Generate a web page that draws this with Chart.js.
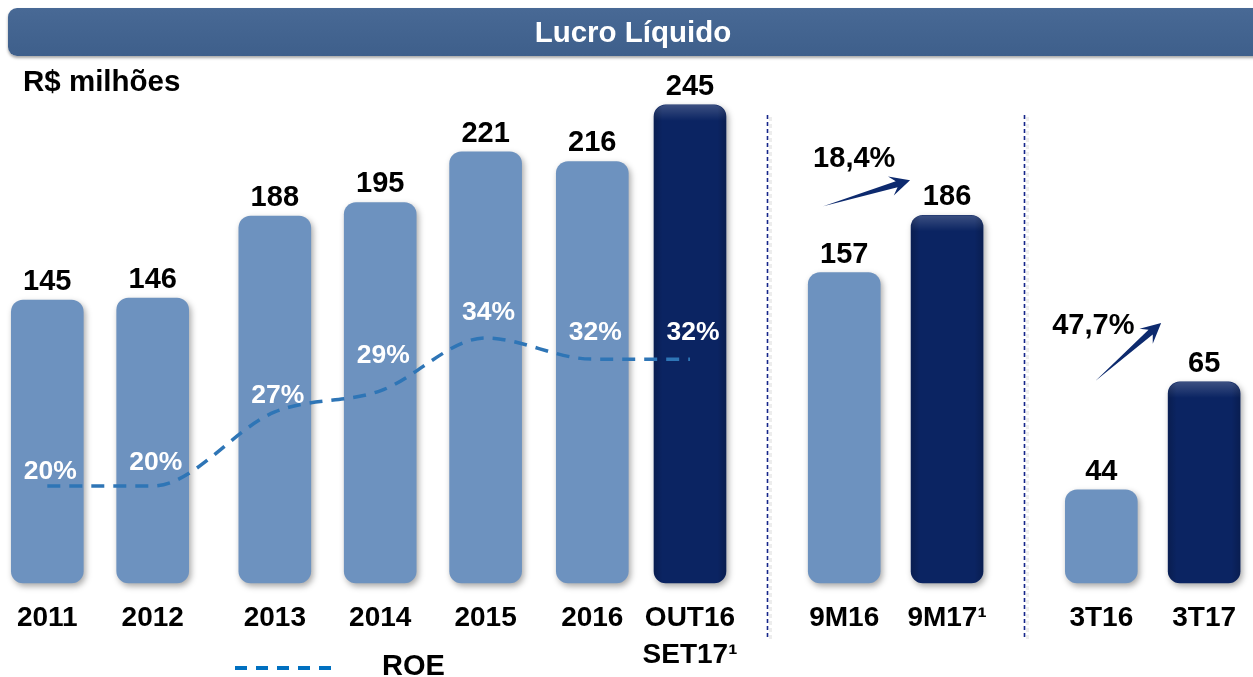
<!DOCTYPE html>
<html><head><meta charset="utf-8">
<script src="https://cdn.jsdelivr.net/npm/chart.js@4/dist/chart.umd.min.js"></script>
<style>
html,body{margin:0;padding:0;background:#fff;overflow:hidden;width:1253px;height:677px;}
#wrap{position:relative;width:1253px;height:677px;overflow:hidden;}
canvas{position:absolute;left:0;top:0;}
#title{position:absolute;left:8px;top:8px;width:1250px;height:48px;border-radius:9px 0 0 9px;
  background:linear-gradient(#486995,#3e5f8b);box-shadow:0 2px 3px rgba(0,0,0,.35);
  color:#fff;font:bold 29.5px 'Liberation Sans',Arial,sans-serif;line-height:48px;text-align:center;z-index:2;}
#unit{position:absolute;left:23px;top:63px;font:bold 29.5px 'Liberation Sans',Arial,sans-serif;line-height:36px;color:#000;z-index:2;}
</style></head>
<body><div id="wrap">
<canvas id="c" width="1253" height="677"></canvas>
<div id="title">Lucro Líquido</div>
<div id="unit">R$ milhões</div>
</div>
<script>
// ---- data ----
const categories = ['2011','2012','2013','2014','2015','2016',['OUT16','SET17¹'],'9M16','9M17¹','3T16','3T17'];
const annualValues = [145,146,188,195,221,216,245];
const nineMonthValues = [157,186];
const quarterValues = [44,65];
const roeValues = [20,20,27,29,34,32,32];
const growthLabels = ['18,4%','47,7%'];
const legendLabel = 'ROE';

// ---- layout (not data) ----
const SLOT = [0,4.1,8.85,12.95,17.05,21.2,25,31,35,41,45];
const ROE_DY = [14,23,16,35,25,26,26];
const Q_AXIS_MIN = 25.9;
const LIGHT = '#6d92bf', DARK = '#0b2462';
const FONT = "'Liberation Sans', Arial, sans-serif";

const colorsFor = n => Array.from({length:n},(_,i)=> i===n-1 ? DARK : LIGHT);

const annualData = annualValues.map((v,i)=>({x:SLOT[i],y:v}));
const nineData = nineMonthValues.map((v,i)=>({x:SLOT[7+i],y:v}));
const quarterData = quarterValues.map((v,i)=>({x:SLOT[9+i],y:v}));
const roeData = roeValues.map((v,i)=>({x:SLOT[i],y:v}));

function drawArrow(ctx, tx, ty, px, py){
  const dx=px-tx, dy=py-ty, L=Math.hypot(dx,dy), ux=dx/L, uy=dy/L, nx=-uy, ny=ux;
  const head=20, hw=10, sw=3.2;
  const hx=px-ux*head, hy=py-uy*head;
  const bx=px-ux*(head-6), by=py-uy*(head-6);
  ctx.save();
  ctx.fillStyle='#0d2a6e';
  ctx.beginPath();
  ctx.moveTo(tx,ty);
  ctx.lineTo(bx+nx*sw,by+ny*sw);
  ctx.lineTo(hx+nx*hw,hy+ny*hw);
  ctx.lineTo(px,py);
  ctx.lineTo(hx-nx*hw,hy-ny*hw);
  ctx.lineTo(bx-nx*sw,by-ny*sw);
  ctx.closePath();
  ctx.fill();
  ctx.restore();
}

const deco = {
  id:'deco',
  beforeDatasetsDraw(chart){
    const ctx=chart.ctx, xs=chart.scales.x;
    const seps=[(SLOT[6]+SLOT[7])/2,(SLOT[8]+SLOT[9])/2];
    seps.forEach(s=>{
      const x=Math.round(xs.getPixelForValue(s))+0.5;
      ctx.save();
      ctx.setLineDash([4,3]);
      ctx.lineWidth=3; ctx.strokeStyle='rgba(0,0,0,0.07)';
      ctx.beginPath(); ctx.moveTo(x+3,117); ctx.lineTo(x+3,639); ctx.stroke();
      ctx.lineWidth=1.6; ctx.strokeStyle='#16268a';
      ctx.beginPath(); ctx.moveTo(x,115); ctx.lineTo(x,637); ctx.stroke();
      ctx.restore();
    });
  },
  beforeDatasetDraw(chart,args){
    if(args.meta.type==='bar'){
      const ctx=chart.ctx; ctx.save();
      ctx.shadowColor='rgba(0,0,0,0.35)'; ctx.shadowBlur=6; ctx.shadowOffsetX=2; ctx.shadowOffsetY=3;
    }
  },
  afterDatasetDraw(chart,args){
    if(args.meta.type!=='bar') return;
    const ctx=chart.ctx; ctx.restore();
    const ds=chart.data.datasets[args.index];
    args.meta.data.forEach((el,i)=>{
      if(ds.backgroundColor[i]!==DARK) return;
      const p=el.getProps(['x','y','base','width'],true);
      const l=p.x-p.width/2, w=p.width, h=p.base-p.y;
      ctx.save();
      ctx.beginPath(); ctx.roundRect(l,p.y,w,h,12); ctx.clip();
      const g=ctx.createLinearGradient(0,p.y,0,p.y+16);
      g.addColorStop(0,'rgba(255,255,255,0.20)'); g.addColorStop(1,'rgba(255,255,255,0)');
      ctx.fillStyle=g; ctx.fillRect(l,p.y,w,16);
      const gs=ctx.createLinearGradient(l,0,l+w,0);
      gs.addColorStop(0,'rgba(0,0,0,0.18)'); gs.addColorStop(0.12,'rgba(0,0,0,0)');
      gs.addColorStop(0.88,'rgba(0,0,0,0)'); gs.addColorStop(1,'rgba(0,0,0,0.18)');
      ctx.fillStyle=gs; ctx.fillRect(l,p.y,w,h);
      ctx.restore();
    });
  },
  afterDraw(chart){
    const ctx=chart.ctx;
    ctx.save();
    ctx.textAlign='center'; ctx.textBaseline='middle';
    // value labels
    ctx.font='bold 29px '+FONT; ctx.fillStyle='#000';
    [1,2,3].forEach(di=>{
      const ds=chart.data.datasets[di];
      chart.getDatasetMeta(di).data.forEach((el,i)=>{
        ctx.fillText(String(ds.data[i].y), el.x, el.y-18);
      });
    });
    // ROE labels
    ctx.font='bold 26.5px '+FONT; ctx.fillStyle='#fff';
    chart.getDatasetMeta(0).data.forEach((el,i)=>{
      ctx.fillText(roeValues[i]+'%', el.x+3, el.y-ROE_DY[i]);
    });
    // growth arrows
    const m9=chart.getDatasetMeta(2).data, m3=chart.getDatasetMeta(3).data;
    drawArrow(ctx, m9[0].x-21, m9[1].y-9, m9[1].x-37, m9[1].y-35);
    drawArrow(ctx, m3[0].x-6, m3[1].y-1, m3[1].x-43, m3[1].y-59);
    ctx.font='bold 29px '+FONT; ctx.fillStyle='#000';
    ctx.fillText(growthLabels[0], m9[0].x+10, m9[1].y-56);
    ctx.fillText(growthLabels[1], m3[0].x-8, m3[1].y-56);
    // legend
    ctx.strokeStyle='#0070c0'; ctx.lineWidth=4; ctx.setLineDash([12,9]);
    ctx.beginPath(); ctx.moveTo(235,668); ctx.lineTo(331,668); ctx.stroke();
    ctx.setLineDash([]);
    ctx.textAlign='left'; ctx.fillStyle='#000';
    ctx.fillText(legendLabel, 382, 667);
    ctx.restore();
  }
};

new Chart(document.getElementById('c'), {
  type:'bar',
  data:{datasets:[
    {type:'line', label:'ROE', data:roeData, yAxisID:'yR', borderColor:'#2e75b6', borderWidth:3.5,
     borderDash:[13,9], cubicInterpolationMode:'monotone', pointRadius:0, fill:false, order:0, clip:false},
    {label:'Anual', data:annualData, yAxisID:'yA', backgroundColor:colorsFor(annualValues.length), order:1, clip:false},
    {label:'9M', data:nineData, yAxisID:'y9', backgroundColor:colorsFor(nineMonthValues.length), order:1, clip:false},
    {label:'3T', data:quarterData, yAxisID:'y3', base:Q_AXIS_MIN, backgroundColor:colorsFor(quarterValues.length), order:1, clip:false}
  ]},
  options:{
    responsive:false, animation:false,
    layout:{padding:{top:60,left:0,right:0,bottom:0}},
    plugins:{legend:{display:false}, tooltip:{enabled:false}, title:{display:false}},
    datasets:{bar:{barThickness:72, grouped:false, borderRadius:12, borderSkipped:false}},
    scales:{
      x:{type:'linear', min:-1.784, max:46.823, offset:false, bounds:'data',
        grid:{display:false, drawTicks:false}, border:{display:false},
        afterBuildTicks:s=>{ s.ticks = SLOT.map(v=>({value:v})); },
        afterFit:s=>{ s.height = 94; },
        ticks:{autoSkip:false, maxRotation:0, minRotation:0, padding:17, color:'#000',
          font:{family:FONT, size:28, weight:'bold', lineHeight:'37px'},
          callback:(v,i)=>categories[i]}},
      yA:{display:false, min:0, max:268},
      y9:{display:false, min:0, max:264.5},
      y3:{display:false, min:Q_AXIS_MIN, max:127.6},
      yR:{display:false, min:10.82, max:60.3}
    }
  },
  plugins:[deco]
});
</script>
</body></html>
